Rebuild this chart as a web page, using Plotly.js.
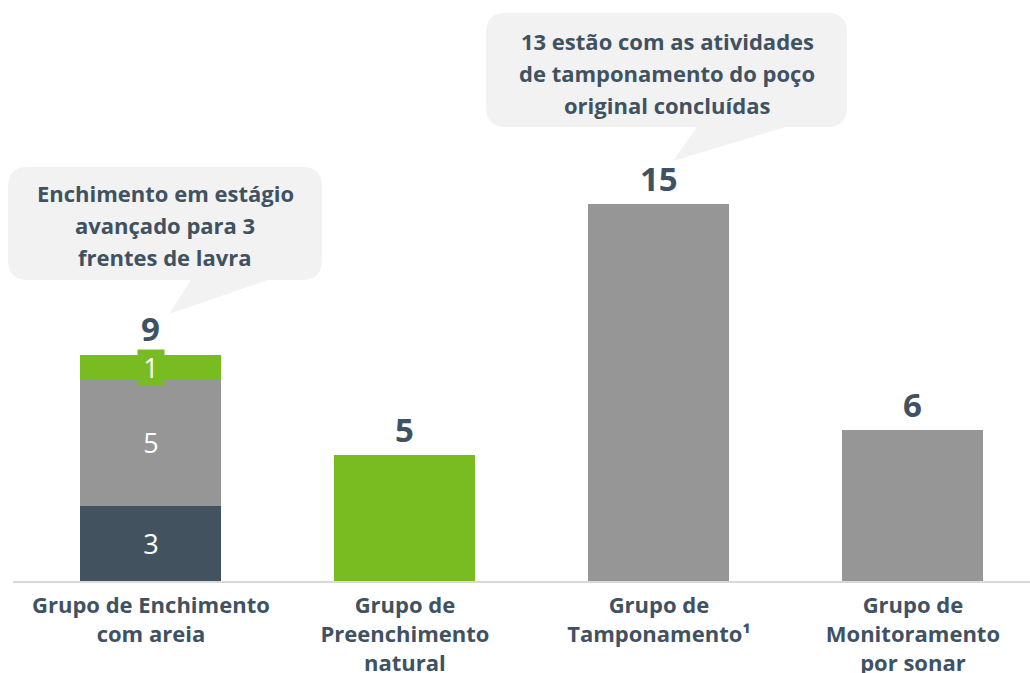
<!DOCTYPE html>
<html>
<head>
<meta charset="utf-8">
<script src="https://cdn.plot.ly/plotly-3.0.1.min.js"></script>
<style>html,body{margin:0;padding:0;background:#fff;}#chart{width:1030px;height:673px;}</style>
</head>
<body>
<div id="chart"></div>
<script>
// ---- data ----
const categories = ['Grupo de Enchimento<br>com areia', 'Grupo de<br>Preenchimento<br>natural', 'Grupo de<br>Tamponamento¹', 'Grupo de<br>Monitoramento<br>por sonar'];
const darkValues  = [3, null, null, null];
const grayValues  = [5, null, 15, 6];
const greenValues = [1, 5, null, null];
const callout1Lines = ['Enchimento em estágio', 'avançado para 3', 'frentes de lavra'];
const callout2Lines = ['13 estão com as atividades', 'de tamponamento do poço', 'original concluídas'];

// ---- styles ----
const DARK = '#42535f', GRAY = '#969696', GREEN = '#79bc21', TXT = '#405261', BUBBLE = '#f2f2f2';
const FONT = 'Open Sans, sans-serif';
const idx = categories.map((c, i) => i);
const BW = 0.555;

const series = [
  {vals: darkValues, color: DARK},
  {vals: grayValues, color: GRAY},
  {vals: greenValues, color: GREEN}
];
const traces = series.map(s => ({
  type: 'bar', x: idx, y: s.vals, width: BW,
  marker: {color: s.color}, hoverinfo: 'none', showlegend: false
}));

// plot area in pixels
const L = 13, R = 1030, T = 0, B = 581;
const px = x => (x - L) / (R - L);
const py = y => (B - y) / (B - T);

const annotations = [];
idx.forEach(i => {
  const segs = series.filter(s => s.vals[i] != null && s.vals[i] > 0);
  let cum = 0;
  const total = segs.reduce((a, s) => a + s.vals[i], 0);
  if (segs.length > 1) {
    segs.forEach(s => {
      const v = s.vals[i];
      annotations.push({x: i, y: cum + v / 2, xref: 'x', yref: 'y', text: String(v), showarrow: false,
        font: {family: FONT, size: 27, color: '#ffffff'}, bgcolor: s.color, width: 26, height: 35, borderpad: 0});
      cum += v;
    });
  }
  annotations.push({x: i, y: total, xref: 'x', yref: 'y', yshift: 26, yanchor: 'middle', text: '<b>' + total + '</b>',
    showarrow: false, font: {family: FONT, size: 33, color: TXT}});
});

function addLines(lines, cx, y0, dy) {
  lines.forEach((t, k) => annotations.push({x: px(cx), y: py(y0 + k * dy), xref: 'paper', yref: 'paper',
    xanchor: 'center', yanchor: 'middle',
    text: '<b>' + t + '</b>', showarrow: false, font: {family: FONT, size: 22, color: TXT}}));
}
addLines(callout1Lines, 165, 193, 32);
addLines(callout2Lines, 667, 41, 32);

function bubble(x0, y0, x1, y1, r, tl, tr, tx, ty) {
  const P = (x, y) => px(x).toFixed(5) + ',' + py(y).toFixed(5);
  const d = 'M' + P(x0 + r, y0) + ' L' + P(x1 - r, y0) + ' Q' + P(x1, y0) + ' ' + P(x1, y0 + r) +
    ' L' + P(x1, y1 - r) + ' Q' + P(x1, y1) + ' ' + P(x1 - r, y1) +
    ' L' + P(tr, y1) + ' L' + P(tx, ty) + ' L' + P(tl, y1) +
    ' L' + P(x0 + r, y1) + ' Q' + P(x0, y1) + ' ' + P(x0, y1 - r) +
    ' L' + P(x0, y0 + r) + ' Q' + P(x0, y0) + ' ' + P(x0 + r, y0) + ' Z';
  return {type: 'path', xref: 'paper', yref: 'paper', path: d, fillcolor: BUBBLE, line: {width: 0}, layer: 'below'};
}
const shapes = [
  bubble(8, 167, 322, 280, 20, 191, 268, 169, 314),
  bubble(486, 13, 847, 127, 20, 697, 785, 673, 161)
];

const layout = {
  width: 1030, height: 673,
  margin: {l: L, r: 1030 - R, t: T, b: 673 - B},
  paper_bgcolor: '#ffffff', plot_bgcolor: '#ffffff',
  barmode: 'stack',
  xaxis: {range: [-0.543, 3.461], tickvals: idx, ticktext: categories, showgrid: false, zeroline: false,
    showline: true, linecolor: '#d9d9d9', linewidth: 2, ticks: '', ticklabelstandoff: 4,
    tickfont: {family: FONT, size: 22, color: TXT, weight: 'bold'}, fixedrange: true},
  yaxis: {range: [0, 23.12], visible: false, showgrid: false, zeroline: false, fixedrange: true},
  annotations: annotations,
  shapes: shapes,
  font: {family: FONT}
};
Plotly.newPlot('chart', traces, layout, {displayModeBar: false, staticPlot: true});
</script>
</body>
</html>
